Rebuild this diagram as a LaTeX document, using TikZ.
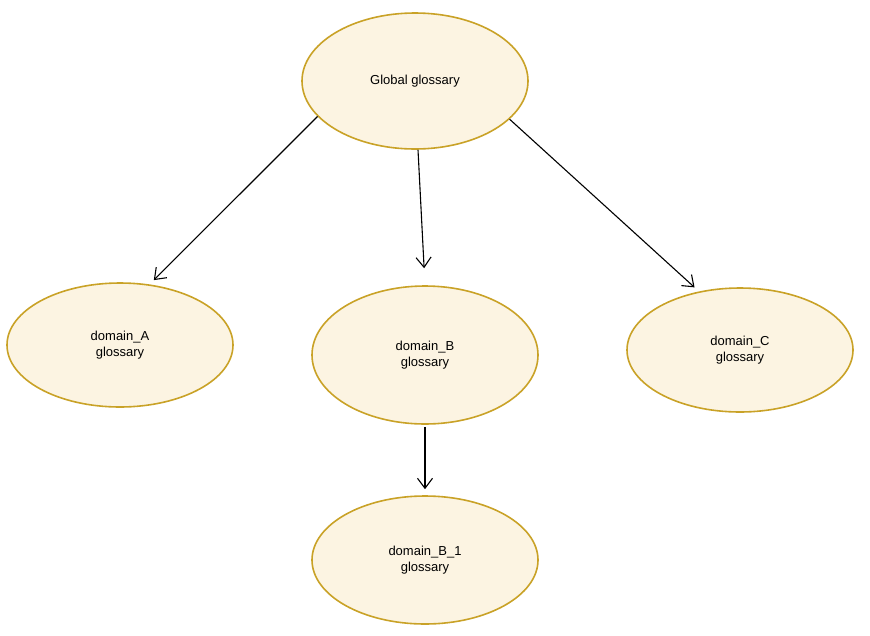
\documentclass[tikz,border=0pt]{standalone}
\usepackage{fontspec}
\setmainfont{Liberation Sans}
\usetikzlibrary{shapes.geometric,arrows.meta}
\definecolor{gold}{HTML}{C9A227}
\definecolor{cream}{HTML}{FCF4E2}
\tikzset{
  glossbox/.style={ellipse, draw=gold, fill=cream, line width=1.6pt, minimum width=226pt, minimum height=128pt, align=center, font=\fontsize{13}{16}\selectfont},
  link/.style={-{Straight Barb[length=10pt,width=15pt]}, line width=1.1pt, black}
}
\begin{document}
\begin{tikzpicture}[x=1pt,y=1pt,yscale=-1]
  \useasboundingbox (0,0) rectangle (870,635); % page size of the reference
  % Glossaries
  \node[glossbox, minimum height=136pt] (glob) at (415,81) {Global glossary};
  \node[glossbox, minimum height=124pt] (doma) at (120,345) {domain\_A\\glossary};
  \node[glossbox, minimum height=138pt] (domb) at (425,355) {domain\_B\\glossary};
  \node[glossbox, minimum height=124pt] (domc) at (740,350) {domain\_C\\glossary};
  \node[glossbox] (domba) at (425,560) {domain\_B\_1\\glossary};
  % Links
  \draw[link, shorten >=6pt] (glob.200) -- (doma.64);
  \draw[link, shorten >=17pt] ([xshift=3pt]glob.south) -- (domb.north);
  \draw[link, shorten >=6pt] (glob.-22) -- (domc.125);
  \draw[link, shorten <=2pt, shorten >=6pt] (domb.south) -- (domba.north);
\end{tikzpicture}
\end{document}
